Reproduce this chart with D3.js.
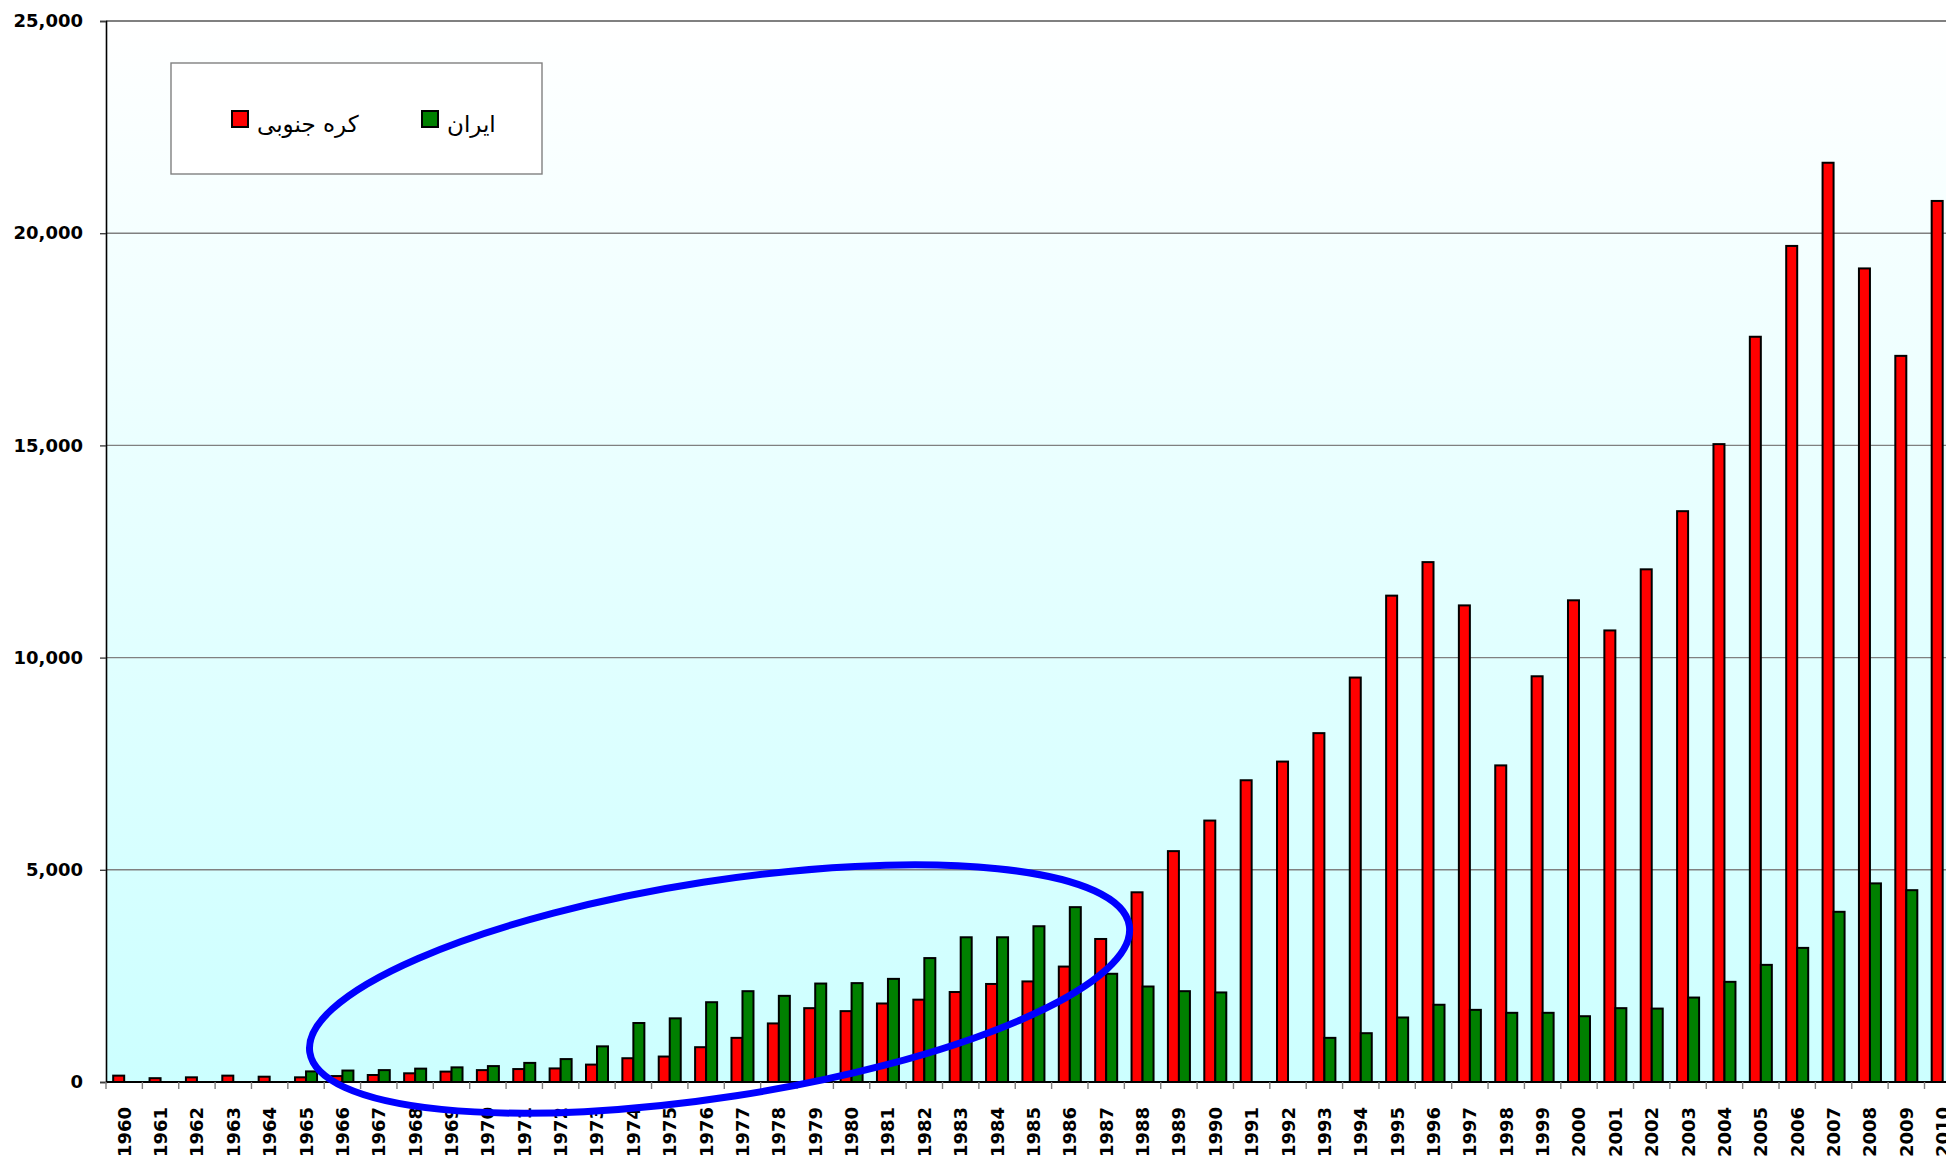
<!DOCTYPE html>
<html>
<head>
<meta charset="utf-8">
<script src="https://cdn.jsdelivr.net/npm/d3@7"></script>
<style>
  body { margin: 0; background: #fff; }
  svg { display: block; }
</style>
</head>
<body>
<div id="chart"></div>
<script>
const years = [1960, 1961, 1962, 1963, 1964, 1965, 1966, 1967, 1968, 1969,
  1970, 1971, 1972, 1973, 1974, 1975, 1976, 1977, 1978, 1979,
  1980, 1981, 1982, 1983, 1984, 1985, 1986, 1987, 1988, 1989,
  1990, 1991, 1992, 1993, 1994, 1995, 1996, 1997, 1998, 1999,
  2000, 2001, 2002, 2003, 2004, 2005, 2006, 2007, 2008, 2009, 2010];

const korea = [150, 90, 110, 150, 125, 110, 140, 165, 205, 245,
  280, 305, 320, 410, 560, 600, 820, 1040, 1380, 1740,
  1670, 1850, 1940, 2120, 2310, 2370, 2720, 3370, 4470, 5440,
  6160, 7110, 7550, 8220, 9530, 11460, 12250, 11230, 7460, 9560,
  11350, 10640, 12080, 13450, 15030, 17560, 19700, 21660, 19170, 17110, 20760];

const iran = [0, 0, 0, 0, 0, 250, 270, 280, 315, 345,
  375, 450, 540, 840, 1390, 1500, 1880, 2140, 2030, 2320,
  2330, 2430, 2920, 3410, 3410, 3670, 4120, 2550, 2250, 2140,
  2110, 0, 0, 1040, 1150, 1520, 1820, 1700, 1630, 1630,
  1550, 1740, 1730, 1990, 2360, 2760, 3160, 4010, 4680, 4520, null];

const seriesNames = ["کره جنوبی", "ایران"];
const seriesColors = ["#ff0000", "#008000"];
const yTicks = [0, 5000, 10000, 15000, 20000, 25000];

// hand-drawn circle around 1965-1987 (centre in data units)
const note = { year: 1976, shift: 0.37, value: 2190, rxSteps: 11.4, ryValue: 2545, angle: -8.8 };

const W = 1946, H = 1158;
const plotLeft = 106, plotTop = 21, plotBottom = 1082;
const step = 36.37;

const svg = d3.select("#chart").append("svg")
  .attr("width", W).attr("height", H);

const x = d3.scaleBand()
  .domain(years)
  .range([plotLeft, plotLeft + step * years.length])
  .paddingInner(0.395)
  .paddingOuter(0.1975);

const xs = d3.scaleBand().domain([0, 1]).range([0, x.bandwidth()]);

const y = d3.scaleLinear().domain([0, 25000]).range([plotBottom, plotTop]);

const defs = svg.append("defs");
const grad = defs.append("linearGradient")
  .attr("id", "bg").attr("x1", 0).attr("y1", 0).attr("x2", 0).attr("y2", 1);
grad.append("stop").attr("offset", "0%").attr("stop-color", "#ffffff");
grad.append("stop").attr("offset", "100%").attr("stop-color", "#ccffff");

svg.append("rect")
  .attr("x", plotLeft).attr("y", plotTop)
  .attr("width", W - plotLeft).attr("height", plotBottom - plotTop)
  .attr("fill", "url(#bg)");

// gridlines
svg.append("g")
  .selectAll("line")
  .data(yTicks.filter(d => d > 0 && d < 25000))
  .join("line")
  .attr("x1", plotLeft).attr("x2", W)
  .attr("y1", d => y(d)).attr("y2", d => y(d))
  .attr("stroke", "#808080").attr("stroke-width", 1.4);

svg.append("line")
  .attr("x1", plotLeft).attr("x2", W)
  .attr("y1", y(25000)).attr("y2", y(25000))
  .attr("stroke", "#808080").attr("stroke-width", 2.2);

// bars
const rows = years.map((yr, i) => ({ year: yr, vals: [korea[i], iran[i]] }));

svg.append("g")
  .selectAll("g")
  .data(rows)
  .join("g")
  .attr("transform", d => `translate(${x(d.year)},0)`)
  .selectAll("rect")
  .data(d => d.vals.map((v, k) => ({ k, v })).filter(e => e.v))
  .join("rect")
  .attr("x", d => xs(d.k))
  .attr("width", xs.bandwidth())
  .attr("y", d => y(d.v))
  .attr("height", d => y(0) - y(d.v))
  .attr("fill", d => seriesColors[d.k])
  .attr("stroke", "#000")
  .attr("stroke-width", 2);

// y axis
const yAxis = svg.append("g")
  .attr("transform", `translate(${plotLeft},0)`)
  .call(d3.axisLeft(y).tickValues(yTicks).tickFormat(d3.format(",")).tickSize(6).tickPadding(17));
yAxis.select(".domain").attr("stroke", "#000").attr("stroke-width", 1.6);
yAxis.selectAll(".tick line").attr("stroke", "#404040").attr("stroke-width", 1.4);
yAxis.selectAll("text")
  .attr("font-family", "DejaVu Sans, sans-serif")
  .attr("font-weight", "bold")
  .attr("font-size", 18)
  .attr("fill", "#000");

// x axis line and ticks at category boundaries
svg.append("line")
  .attr("x1", plotLeft).attr("x2", W)
  .attr("y1", plotBottom).attr("y2", plotBottom)
  .attr("stroke", "#000").attr("stroke-width", 2);

svg.append("g")
  .selectAll("line")
  .data(years)
  .join("line")
  .attr("x1", d => x(d) - x.step() * x.paddingInner() / 2)
  .attr("x2", d => x(d) - x.step() * x.paddingInner() / 2)
  .attr("y1", plotBottom).attr("y2", plotBottom + 7)
  .attr("stroke", "#808080").attr("stroke-width", 1.4);

svg.append("g")
  .selectAll("text")
  .data(years)
  .join("text")
  .attr("transform", d => `translate(${x(d) + x.bandwidth() / 2},${plotBottom + 25}) rotate(-90)`)
  .attr("text-anchor", "end")
  .attr("dy", "0.36em")
  .attr("font-family", "DejaVu Sans, sans-serif")
  .attr("font-weight", "bold")
  .attr("font-size", 18)
  .text(d => d);

// annotation ellipse
const cx = x(note.year) + x.bandwidth() / 2 + note.shift * x.step();
const cy = y(note.value);
svg.append("ellipse")
  .attr("transform", `translate(${cx},${cy}) rotate(${note.angle})`)
  .attr("rx", note.rxSteps * x.step())
  .attr("ry", y(0) - y(note.ryValue))
  .attr("fill", "none")
  .attr("stroke", "#0000ff")
  .attr("stroke-width", 7);

// legend
const legend = svg.append("g");
legend.append("rect")
  .attr("x", 171).attr("y", 63).attr("width", 371).attr("height", 111)
  .attr("fill", "#ffffff").attr("stroke", "#808080").attr("stroke-width", 1.4);

const legendX = [232, 422];
const items = legend.selectAll("g.item")
  .data(seriesNames)
  .join("g")
  .attr("class", "item")
  .attr("transform", (d, i) => `translate(${legendX[i]},111)`);

items.append("rect")
  .attr("width", 16).attr("height", 16)
  .attr("fill", (d, i) => seriesColors[i])
  .attr("stroke", "#000").attr("stroke-width", 2);

items.append("text")
  .attr("x", 25).attr("y", 21)
  .attr("font-family", "DejaVu Sans, sans-serif")
  .attr("font-size", 23)
  .attr("fill", "#000")
  .text(d => d);
</script>
</body>
</html>
